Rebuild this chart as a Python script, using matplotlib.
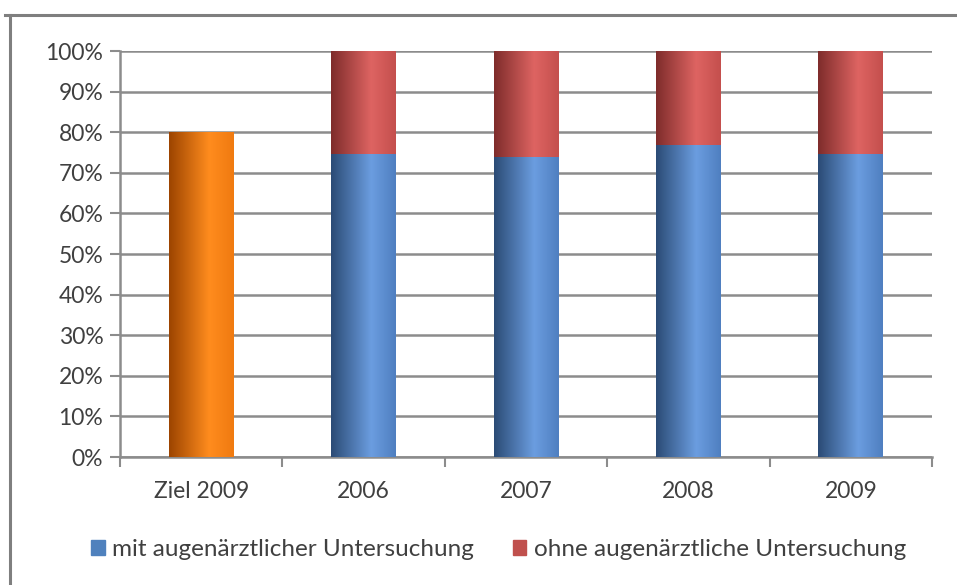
import numpy as np
import matplotlib
matplotlib.use("Agg")
import matplotlib.pyplot as plt
from matplotlib.colors import LinearSegmentedColormap
from matplotlib.lines import Line2D
from matplotlib.patches import Patch

# values (percent)
categories = ["Ziel 2009", "2006", "2007", "2008", "2009"]
mit_unters = [0, 74.7, 73.8, 76.8, 74.6]
ohne_unters = [0, 25.3, 26.2, 23.2, 25.4]
ziel = [80, 0, 0, 0, 0]

labels = ["mit augenärztlicher Untersuchung", "ohne augenärztliche Untersuchung"]

plt.rcParams["font.family"] = ["Lato", "DejaVu Sans"]
text_col = "#404040"
grid_col = "#8c8c8c"
fs = 16.5


def cylinder_cmap(dark, light, edge):
    # dark left edge -> light highlight -> slightly darker right edge
    return LinearSegmentedColormap.from_list(
        "cyl", [(0.0, dark), (0.62, light), (1.0, edge)])


cmaps = {
    "blue": cylinder_cmap("#2b4b75", "#6b9de0", "#4f7fc0"),
    "red": cylinder_cmap("#7e2c2b", "#de6462", "#c44f4d"),
    "orange": cylinder_cmap("#9c4400", "#ff8c1e", "#f07a10"),
}


def shade_bars(ax, bars, cmap):
    grad = np.linspace(0, 1, 256).reshape(1, -1)
    for b in bars:
        if b.get_height() <= 0:
            continue
        x0, y0 = b.get_x(), b.get_y()
        w, h = b.get_width(), b.get_height()
        im = ax.imshow(grad, cmap=cmap, aspect="auto",
                       extent=(x0, x0 + w, y0, y0 + h), zorder=3,
                       interpolation="bilinear")
        im.set_clip_path(b)


fig = plt.figure(figsize=(9.57, 5.85), dpi=100)
ax = fig.add_axes([0.1254, 0.2188, 0.974 - 0.1254, 0.9128 - 0.2188])

x = np.arange(len(categories))
width = 0.4
b_ziel = ax.bar(x, ziel, width, color="#ff8c1e", zorder=2)
b_mit = ax.bar(x, mit_unters, width, color="#6b9de0", zorder=2)
b_ohne = ax.bar(x, ohne_unters, width, bottom=mit_unters, color="#de6462", zorder=2)

shade_bars(ax, b_ziel, cmaps["orange"])
shade_bars(ax, b_mit, cmaps["blue"])
shade_bars(ax, b_ohne, cmaps["red"])

ax.set_xlim(-0.5, len(categories) - 0.5)
ax.set_ylim(0, 100)
ax.set_yticks(np.arange(0, 101, 10))
ax.set_yticklabels([f"{v}%" for v in range(0, 101, 10)])
ax.yaxis.grid(True, color=grid_col, linewidth=1.8, zorder=1)
ax.set_axisbelow(True)

# category labels centred, tick marks on the category borders
ax.set_xticks(x)
ax.set_xticklabels(categories)
ax.set_xticks(np.arange(-0.5, len(categories)), minor=True)
ax.tick_params(axis="x", which="major", length=0, pad=17, labelsize=fs, labelcolor=text_col)
ax.tick_params(axis="x", which="minor", length=7, width=1.5, color=grid_col, direction="out")
ax.tick_params(axis="y", length=7, width=1.5, color=grid_col, labelsize=fs,
               labelcolor=text_col, pad=5)

for side in ["top", "right"]:
    ax.spines[side].set_visible(False)
for side in ["left", "bottom"]:
    ax.spines[side].set_color(grid_col)
    ax.spines[side].set_linewidth(1.8)

handles = [Patch(color="#4f81bd"), Patch(color="#c0504d")]
fig.legend(handles, labels, loc="center", bbox_to_anchor=(0.521, 0.06), ncol=2,
           frameon=False, fontsize=17.5, labelcolor=text_col,
           handlelength=0.55, handleheight=0.55, handletextpad=0.3, columnspacing=1.6)

# outer chart frame (top and left edges only visible in the reference)
fig.add_artist(Line2D([5 / 957, 1.0], [1 - 15 / 585] * 2, transform=fig.transFigure,
                      color="#7f7f7f", linewidth=2.2))
fig.add_artist(Line2D([10 / 957] * 2, [0, 1 - 15 / 585], transform=fig.transFigure,
                      color="#7f7f7f", linewidth=2.2))

fig.savefig("out.png", dpi=100)
